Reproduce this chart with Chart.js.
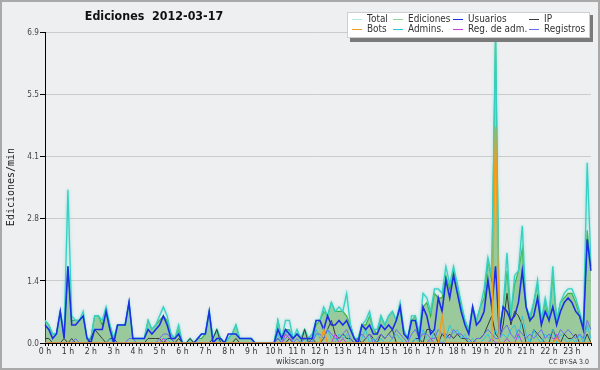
<!DOCTYPE html>
<html>
<head>
<meta charset="utf-8">
<script src="https://cdn.jsdelivr.net/npm/chart.js@4.4.1/dist/chart.umd.min.js"></script>
<style>
  html, body { margin: 0; padding: 0; background: #eeeff1; }
  #wrap { width: 600px; height: 370px; }
</style>
</head>
<body>
<div id="wrap"><canvas id="chart" width="600" height="370"></canvas></div>
<script>
// edits per minute, one value per 10 minutes (6 per hour)
const hours = [0,1,2,3,4,5,6,7,8,9,10,11,12,13,14,15,16,17,18,19,20,21,22,23];
const yTicks = [0, 1.38, 2.76, 4.14, 5.52, 6.9];

const total = [
  0.5,0.4,0.2,0.2,0.7,0.2,  3.4,0.6,0.5,0.5,0.7,0.1,  0.1,0.6,0.6,0.5,0.8,0.4,  0.1,0.4,0.4,0.4,0.9,0.1,
  0.1,0.1,0.1,0.5,0.3,0.4,  0.6,0.8,0.6,0.2,0.1,0.4,  0.0,0.0,0.1,0.0,0.1,0.2,  0.2,0.7,0.1,0.3,0.1,0.0,
  0.1,0.2,0.4,0.1,0.1,0.1,  0.1,0.0,0.0,0.0,0.0,0.0,  0.0,0.5,0.1,0.5,0.5,0.1,  0.3,0.1,0.3,0.1,0.2,0.5,
  0.5,0.8,0.6,0.9,0.7,0.8,  0.7,1.1,0.4,0.1,0.1,0.4,  0.5,0.7,0.3,0.3,0.6,0.4,  0.6,0.7,0.5,0.9,0.3,0.1,
  0.6,0.6,0.2,1.1,1.0,0.7,  1.2,1.2,1.1,1.7,1.3,1.7,  1.3,0.9,0.5,0.3,0.8,0.5,  0.8,1.2,1.9,1.5,6.9,0.3,
  0.8,2.0,0.6,1.5,1.6,2.6,  0.8,0.6,0.9,1.4,0.5,1.0,  0.6,1.7,0.5,0.9,1.1,1.2,  1.2,1.0,0.7,0.4,4.0,1.7
];
const ediciones = [
  0.5,0.4,0.2,0.2,0.7,0.2,  1.7,0.5,0.5,0.5,0.6,0.1,  0.1,0.6,0.6,0.4,0.7,0.4,  0.1,0.4,0.4,0.4,0.9,0.1,
  0.1,0.1,0.1,0.5,0.3,0.4,  0.5,0.6,0.5,0.2,0.1,0.3,  0.0,0.0,0.1,0.0,0.1,0.1,  0.2,0.7,0.1,0.3,0.1,0.0,
  0.1,0.2,0.4,0.1,0.1,0.1,  0.1,0.0,0.0,0.0,0.0,0.0,  0.0,0.5,0.1,0.3,0.3,0.1,  0.2,0.1,0.3,0.1,0.2,0.4,
  0.5,0.7,0.6,0.9,0.7,0.7,  0.7,0.6,0.4,0.1,0.1,0.4,  0.4,0.6,0.3,0.2,0.6,0.4,  0.6,0.7,0.5,0.8,0.2,0.1,
  0.5,0.6,0.2,0.8,0.9,0.6,  1.1,1.0,1.0,1.5,1.2,1.6,  1.3,0.8,0.5,0.3,0.8,0.5,  0.8,1.0,1.8,1.4,6.8,0.3,
  0.8,1.6,0.6,1.3,1.6,2.1,  0.8,0.5,0.9,1.3,0.5,0.9,  0.5,1.5,0.5,0.9,1.0,1.1,  1.1,0.9,0.6,0.3,2.5,1.7
];
const usuarios = [
  0.4,0.3,0.1,0.2,0.7,0.1,  1.7,0.4,0.4,0.5,0.6,0.1,  0.0,0.3,0.3,0.3,0.7,0.3,  0.0,0.4,0.4,0.4,0.9,0.1,
  0.1,0.1,0.1,0.3,0.2,0.3,  0.4,0.6,0.4,0.1,0.1,0.2,  0.0,0.0,0.0,0.0,0.1,0.2,  0.2,0.7,0.0,0.1,0.1,0.0,
  0.2,0.2,0.2,0.1,0.1,0.1,  0.1,0.0,0.0,0.0,0.0,0.0,  0.0,0.3,0.1,0.3,0.2,0.1,  0.2,0.1,0.1,0.1,0.1,0.5,
  0.5,0.3,0.6,0.4,0.4,0.5,  0.4,0.5,0.3,0.1,0.0,0.4,  0.3,0.4,0.2,0.2,0.4,0.3,  0.4,0.3,0.5,0.8,0.2,0.1,
  0.5,0.5,0.1,0.8,0.6,0.2,  0.3,1.0,0.7,1.4,1.0,1.5,  1.1,0.7,0.4,0.2,0.8,0.4,  0.5,0.7,1.4,0.8,1.7,0.2,
  0.8,0.7,0.5,0.6,0.9,1.6,  0.8,0.5,0.6,1.0,0.4,0.7,  0.5,0.8,0.4,0.7,0.9,1.0,  0.9,0.7,0.6,0.3,2.3,1.6
];
const ip = [
  0.1,0.1,0.0,0.0,0.0,0.1,  0.0,0.1,0.0,0.0,0.0,0.0,  0.1,0.3,0.2,0.1,0.0,0.1,  0.1,0.0,0.0,0.0,0.0,0.0,
  0.0,0.0,0.0,0.1,0.1,0.1,  0.1,0.0,0.1,0.1,0.0,0.1,  0.0,0.0,0.1,0.0,0.0,0.0,  0.0,0.0,0.1,0.3,0.0,0.0,
  0.0,0.0,0.1,0.0,0.0,0.0,  0.0,0.0,0.0,0.0,0.0,0.0,  0.0,0.1,0.0,0.0,0.1,0.0,  0.0,0.0,0.3,0.0,0.1,0.0,
  0.0,0.1,0.3,0.5,0.2,0.1,  0.2,0.1,0.1,0.0,0.1,0.0,  0.1,0.2,0.1,0.0,0.2,0.1,  0.2,0.3,0.0,0.0,0.0,0.0,
  0.0,0.1,0.1,0.0,0.3,0.3,  0.2,0.0,0.2,0.1,0.2,0.1,  0.2,0.1,0.1,0.0,0.0,0.1,  0.1,0.2,0.4,0.6,0.2,0.1,
  0.4,1.1,0.4,0.7,0.6,0.4,  0.0,0.0,0.3,0.2,0.1,0.0,  0.0,0.3,0.1,0.0,0.2,0.1,  0.1,0.2,0.0,0.0,0.2,0.0
];
const bots = [
  0,0,0,0,0,0,  0,0,0,0,0,0,  0,0,0,0,0,0,  0,0,0,0,0,0,
  0,0,0,0,0,0,  0,0,0,0,0,0,  0,0,0,0,0,0,  0,0,0,0,0,0,
  0,0,0,0,0,0,  0,0,0,0,0,0,  0,0,0,0,0,0,  0,0,0,0,0,0,
  0,0.3,0,0,0,0,  0,0,0,0,0,0,  0,0,0,0,0,0,  0,0,0,0,0,0,
  0,0,0,0,0,0,  0,0,0.6,0,0,0,  0,0,0,0,0,0,  0,0,0,0,4.8,0,
  0,0,0,0,0,0,  0,0,0,0,0,0,  0,0,0.1,0,0,0,  0,0,0,0,0,0
];
const admins = [
  0,0,0,0,0,0,  0,0,0,0,0,0,  0,0,0,0,0,0.1,  0,0,0,0,0,0,
  0,0,0,0,0,0,  0,0.1,0.1,0,0,0,  0,0,0,0,0,0,  0,0,0,0.1,0,0,
  0,0,0,0,0,0,  0,0,0,0,0,0,  0,0.2,0,0.2,0.3,0,  0,0,0.1,0,0,0.3,
  0.1,0.2,0.3,0.1,0,0.2,  0.1,0.2,0,0,0,0.1,  0.3,0,0.1,0,0.1,0,  0,0.1,0.2,0.1,0,0,
  0,0.1,0,0.3,0.1,0,  0.3,0.1,0,0.1,0.4,0.2,  0.3,0.1,0.2,0,0.1,0,  0,0.1,0.2,0,0.3,0.1,
  0.2,0.1,0.3,0.4,0.1,0.6,  0.2,0,0.3,0.1,0,0.2,  0.1,0.3,0,0.2,0.1,0,  0.1,0,0.2,0,0.4,0.1
];
const regAdm = [
  0,0,0,0,0,0,  0,0,0,0,0,0,  0,0,0,0,0,0,  0,0,0,0,0,0,
  0,0,0,0,0,0,  0,0.1,0,0,0,0,  0,0,0,0,0,0,  0,0,0,0,0,0,
  0,0,0,0,0,0,  0,0,0,0,0,0,  0,0,0,0.2,0.1,0,  0,0,0,0,0,0,
  0,0,0,0,0.2,0,  0.1,0,0,0,0,0,  0,0,0,0,0,0,  0,0,0,0,0,0,
  0,0,0,0,0,0.1,  0,0,0,0,0,0,  0,0,0,0,0,0,  0,0,0,0.1,0,0,
  0,0.1,0,0,0.2,0,  0,0,0,0,0,0,  0,0,0.2,0,0,0,  0,0,0,0,0,0
];
const registros = [
  0,0,0,0,0,0,  0,0,0.1,0,0,0,  0,0,0,0,0,0,  0,0,0,0,0.1,0.1,
  0,0,0,0,0,0,  0.1,0.2,0.2,0.1,0,0,  0,0,0,0,0,0,  0,0,0,0,0,0,
  0,0,0,0,0,0,  0,0,0,0,0,0,  0,0.1,0,0.1,0.2,0,  0.1,0,0.1,0.1,0,0.2,
  0.2,0.1,0.3,0.2,0.1,0.1,  0.2,0.3,0.1,0,0.1,0.2,  0.1,0.2,0,0.1,0.2,0.1,  0.2,0.1,0.3,0.2,0.1,0,
  0.2,0.3,0.1,0.2,0.2,0.1,  0.1,0.3,0.2,0.2,0.1,0.3,  0.2,0.2,0.1,0.1,0,0.1,  0.1,0.2,0.3,0.2,0.1,0.1,
  0.3,0.4,0.2,0.1,0.3,0.2,  0.1,0.2,0.1,0.2,0.3,0.1,  0.2,0.1,0.1,0.3,0.2,0.3,  0.2,0.1,0.2,0.1,0.5,0.3
];

// slot labels, 10 minutes each
const slots = [];
hours.forEach(h => { for (let m = 0; m < 60; m += 10) slots.push(h + ":" + String(m).padStart(2, "0")); });

function line(label, data, color, width, order, extra) {
  return Object.assign({ label, data, borderColor: color, borderWidth: width, order,
    pointRadius: 0, tension: 0, fill: false }, extra || {});
}

const datasets = [
  line("Total", total, "#36cfc2", 1.3, 7, { legendColor: "#b4e6e4", halo: "rgba(110,225,215,0.9)" }),
  line("Ediciones", ediciones, "#2fb02f", 1.2, 8,
       { fill: "origin", backgroundColor: "rgba(70,165,70,0.5)", legendColor: "#8fd68f" }),
  line("Usuarios", usuarios, "#1c2ee6", 1.6, 2),
  line("IP", ip, "#3a3a3a", 1, 6),
  line("Bots", bots, "#f29c1c", 1.5, 1),
  line("Admins.", admins, "#2ec4e0", 1, 5),
  line("Reg. de adm.", regAdm, "#c83ee0", 1, 3),
  line("Registros", registros, "#6a6cf0", 1, 4)
];

// the reference font is a narrow sans: DejaVu squeezed horizontally
function text(c, str, x, y, font, align, color, sx) {
  c.save();
  c.font = font;
  c.fillStyle = color;
  c.textBaseline = "middle";
  c.textAlign = align;
  c.translate(x, y);
  c.scale(sx || 0.86, 1);
  c.fillText(str, 0, 0);
  c.restore();
}

// light halo round the Total line
const haloPlugin = {
  id: "halo",
  beforeDatasetDraw(chart, args) {
    const ds = chart.data.datasets[args.index];
    if (ds.halo) {
      chart.ctx.save();
      chart.ctx.shadowColor = ds.halo;
      chart.ctx.shadowBlur = 3;
    }
  },
  afterDatasetDraw(chart, args) {
    if (chart.data.datasets[args.index].halo) chart.ctx.restore();
  }
};

// page frame, title, tick labels, footer texts
const framePlugin = {
  id: "frame",
  beforeDraw(chart) {
    const c = chart.ctx;
    c.save();
    c.fillStyle = "#eeeff1";
    c.fillRect(0, 0, chart.width, chart.height);
    c.restore();
  },
  afterDraw(chart) {
    const c = chart.ctx;
    const xs = chart.scales.x, ys = chart.scales.y;
    c.save();
    c.strokeStyle = "#a9a9a9";
    c.lineWidth = 2;
    c.strokeRect(1, 1, chart.width - 2, chart.height - 2);
    c.restore();

    text(c, "Ediciones  2012-03-17", 154, 17, "bold 12.5px 'DejaVu Sans'", "center", "#111", 0.89);

    hours.forEach(h => {
      text(c, h + " h", xs.getPixelForTick(h * 6), 351.5, "9px 'DejaVu Sans'", "center", "#333");
    });
    yTicks.forEach(v => {
      text(c, v.toFixed(1), 39, ys.getPixelForValue(v) + 0.5, "8.5px 'DejaVu Sans'", "right", "#444");
    });

    text(c, "wikiscan.org", 300, 361.5, "9px 'DejaVu Sans'", "center", "#333");
    text(c, "CC BY-SA 3.0", 589, 362, "7px 'DejaVu Sans'", "right", "#333", 0.89);

    c.save();
    c.translate(11, 187);
    c.rotate(-Math.PI / 2);
    c.textAlign = "center";
    c.textBaseline = "middle";
    c.font = "10px 'DejaVu Sans Mono'";
    c.fillStyle = "#222";
    c.fillText("Ediciones/min", 0, 0);
    c.restore();
  }
};

// legend box drawn by hand, 4 columns x 2 rows
const legendOrder = ["Total", "Ediciones", "Usuarios", "IP", "Bots", "Admins.", "Reg. de adm.", "Registros"];
const legendCols = [352, 393, 453, 529];
const legendPlugin = {
  id: "boxLegend",
  afterDraw(chart) {
    const c = chart.ctx;
    c.save();
    c.fillStyle = "#7a7a7a";
    c.fillRect(350, 15, 243, 27);
    c.fillStyle = "#ffffff";
    c.fillRect(347, 12, 243, 26);
    c.strokeStyle = "#cfcfcf";
    c.lineWidth = 1;
    c.strokeRect(347.5, 12.5, 242, 25);
    legendOrder.forEach((name, i) => {
      const ds = chart.data.datasets.find(d => d.label === name);
      const x = legendCols[i % 4];
      const y = i < 4 ? 19.5 : 29.5;
      c.strokeStyle = ds.legendColor || ds.borderColor;
      c.beginPath();
      c.moveTo(x, y);
      c.lineTo(x + 10, y);
      c.stroke();
      text(c, name, x + 15, y, "10.5px 'DejaVu Sans'", "left", "#333", 0.85);
    });
    c.restore();
  }
};

new Chart(document.getElementById("chart"), {
  type: "line",
  data: { labels: slots, datasets },
  plugins: [framePlugin, haloPlugin, legendPlugin],
  options: {
    responsive: false,
    animation: false,
    devicePixelRatio: 1,
    layout: { padding: { top: 32, right: 9, left: 0, bottom: 0 } },
    plugins: { legend: { display: false }, tooltip: { enabled: false } },
    scales: {
      x: {
        type: "category",
        offset: false,
        border: { color: "#000", width: 1 },
        grid: { drawOnChartArea: false, tickLength: 3, tickColor: "#000" },
        ticks: { display: false, autoSkip: false, maxRotation: 0 },
        afterFit: s => { s.height = 27; }
      },
      y: {
        min: 0, max: 6.9,
        border: { color: "#000", width: 1 },
        afterBuildTicks: s => { s.ticks = yTicks.map(v => ({ value: v })); },
        grid: {
          tickLength: 5, tickColor: "#000",
          color: c => (c.tick && c.tick.value === 0 ? "rgba(0,0,0,0)" : "#cbcbcb")
        },
        ticks: { display: false },
        afterFit: s => { s.width = 45; }
      }
    }
  }
});
</script>
</body>
</html>
